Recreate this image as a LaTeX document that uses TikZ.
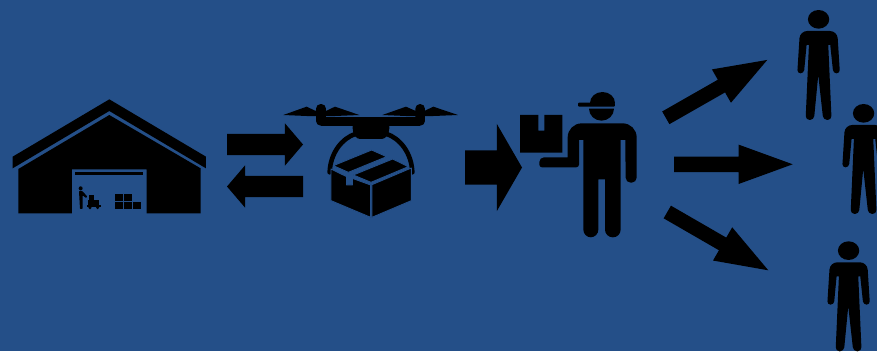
\documentclass[tikz,border=0pt]{standalone}
\usepackage{tikz}
\usetikzlibrary{shapes.arrows}
\definecolor{bgblue}{HTML}{244F88}
\tikzset{
    zoomgrid/.style={x=0.3333pt, y=-0.3333pt},
    icon/.style={fill=black, draw=none},
    gapped/.style={fill=black, draw=bgblue, line width=0.9pt, line join=round},
    blockarrow/.style={fill=black, draw=none, single arrow, anchor=tail, inner xsep=0pt, outer sep=0pt},
    person/.pic={
        \fill[icon] (0,0) ellipse (32 and 28);
        \fill[icon, rounded corners=7.3pt] (0,35) -- (56,35) [rounded corners=3.3pt] -- (64,162) -- (44,162) [sharp corners] -- (35,77) -- (29,77) [rounded corners=4pt] -- (39,302) -- (14,302) [sharp corners] -- (-1,167) [rounded corners=4pt] -- (-14,302) -- (-39,302) [sharp corners] -- (-29,77) -- (-36,77) [rounded corners=3.3pt] -- (-44,162) -- (-64,162) [rounded corners=7.3pt] -- (-56,35) -- cycle;
    }
}
\begin{document}
\begin{tikzpicture}[x=1pt, y=-1pt]
    \clip (0,0) rectangle (877,351);
    \fill[bgblue] (0,0) rectangle (877,351);

    \begin{scope}[shift={(0,90)}, zoomgrid]
        \fill[icon] (38,200) -- (328,28) -- (618,200) -- (618,235) -- (328,63) -- (38,235) -- cycle;
        \fill[icon] (328,75) -- (602,235) -- (602,370) -- (440,370) -- (440,238) -- (216,238) -- (216,370) -- (55,370) -- (55,237) -- cycle;
        \fill[icon] (225,247) rectangle (430,255);
        \fill[icon] (242,295) circle (6);
        \fill[icon, rounded corners=0.7pt] (237,303) -- (247,303) -- (262,320) -- (258,324) -- (248,316) -- (248,357) -- (240,357) -- cycle;
        \fill[icon] (266,315) rectangle (281,329);
        \fill[icon] (264,331) rectangle (281,345);
        \fill[icon] (283,331) rectangle (298,345);
        \fill[icon] (262,346) rectangle (303,350);
        \fill[icon] (270,353) circle (5);
        \fill[icon] (293,353) circle (5);
        \fill[icon] (345,313) rectangle (368,333);
        \fill[icon] (372,313) rectangle (395,333);
        \fill[icon] (345,337) rectangle (368,357);
        \fill[icon] (372,337) rectangle (395,357);
        \fill[icon] (400,337) rectangle (422,357);
    \end{scope}

    \node[blockarrow, minimum height=76pt, inner ysep=10.5pt, single arrow head extend=10.5pt, single arrow tip angle=99] (syncright) at (227,144.5) {};
    \node[blockarrow, minimum height=76pt, inner ysep=10.5pt, single arrow head extend=10.5pt, single arrow tip angle=99, rotate=180] (syncleft) at (303,186.5) {};

    \begin{scope}[shift={(270,95)}, zoomgrid]
        \fill[icon] (40,60) -- (110,35) -- (135,47) -- (170,47) -- (195,35) -- (268,60) -- (195,63) -- (110,63) -- cycle;
        \fill[icon] (337,60) -- (408,35) -- (435,47) -- (465,47) -- (490,35) -- (564,60) -- (490,63) -- (408,63) -- cycle;
        \fill[icon, rounded corners=4.7pt] (138,27) rectangle (168,92);
        \fill[icon, rounded corners=4.7pt] (436,27) rectangle (465,92);
        \fill[icon] (152,67) rectangle (450,92);
        \fill[icon, rounded corners=3.3pt] (248,85) -- (358,85) -- (358,110) -- (345,132) -- (260,132) -- (248,110) -- cycle;
        \draw[line width=4.6pt, line cap=round] (179,232) .. controls (181,175) and (215,130) .. (258,116);
        \draw[line width=4.6pt, line cap=round] (427,232) .. controls (425,175) and (391,130) .. (348,116);
        \fill[bgblue] (190,212) -- (305,165) -- (415,215) -- (303,265) -- cycle;
        \filldraw[gapped] (183,222) -- (230,245) -- (230,270) -- (247,270) -- (247,250) -- (302,270) -- (302,367) -- (183,317) -- cycle;
        \filldraw[gapped] (306,269) -- (424,219) -- (424,317) -- (306,367) -- cycle;
        \filldraw[gapped] (190,212) -- (305,165) -- (350,185) -- (235,232) -- cycle;
        \filldraw[gapped] (250,240) -- (368,192) -- (415,215) -- (303,262) -- cycle;
    \end{scope}

    \node[blockarrow, minimum height=57pt, inner ysep=17pt, single arrow head extend=26.5pt, single arrow tip angle=120] (handover) at (465,167.5) {};

    \begin{scope}[shift={(510,85)}, zoomgrid]
        \fill[icon] (30,90) -- (85,90) -- (85,137) -- (103,137) -- (103,90) -- (157,90) -- (157,203) -- (30,203) -- cycle;
        \fill[icon] (240,54) arc[start angle=180, end angle=360, x radius=37.5, y radius=33] -- cycle;
        \fill[icon, rounded corners=1pt] (204,53) rectangle (315,65);
        \fill[icon] (237,71) -- (312,71) arc[start angle=0, end angle=180, x radius=37.5, y radius=36] -- cycle;
        \fill[icon, rounded corners=14pt] (173,217) -- (173,115) -- (380,115) [rounded corners=5pt] -- (380,293) -- (347,293) [sharp corners] -- (346,165) -- (332,165) [rounded corners=7.7pt] -- (332,457) -- (285,457) [sharp corners] -- (285,283) -- (265,283) [rounded corners=7.7pt] -- (265,457) -- (220,457) [sharp corners] -- (220,165) -- (207,165) [rounded corners=2.7pt] -- (207,247) -- (88,247) [rounded corners=4.7pt] -- (88,217) [sharp corners] -- cycle;
    \end{scope}

    \node[blockarrow, minimum height=116.8pt, inner ysep=7.1pt, single arrow head extend=11.9pt, single arrow tip angle=40, rotate=29.7] (totop) at (665.8,117.8) {};
    \node[blockarrow, minimum height=118.7pt, inner ysep=7.5pt, single arrow head extend=12pt, single arrow tip angle=40] (tomiddle) at (674,164.3) {};
    \node[blockarrow, minimum height=116.6pt, inner ysep=7.1pt, single arrow head extend=11.9pt, single arrow tip angle=40, rotate=-30] (tobottom) at (667.3,212) {};

    \begin{scope}[zoomgrid]
        \pic (customertop) at (2456,58) {person};
        \pic (customermiddle) at (2591,340) {person};
        \pic (customerbottom) at (2546,752) {person};
    \end{scope}
\end{tikzpicture}
\end{document}
